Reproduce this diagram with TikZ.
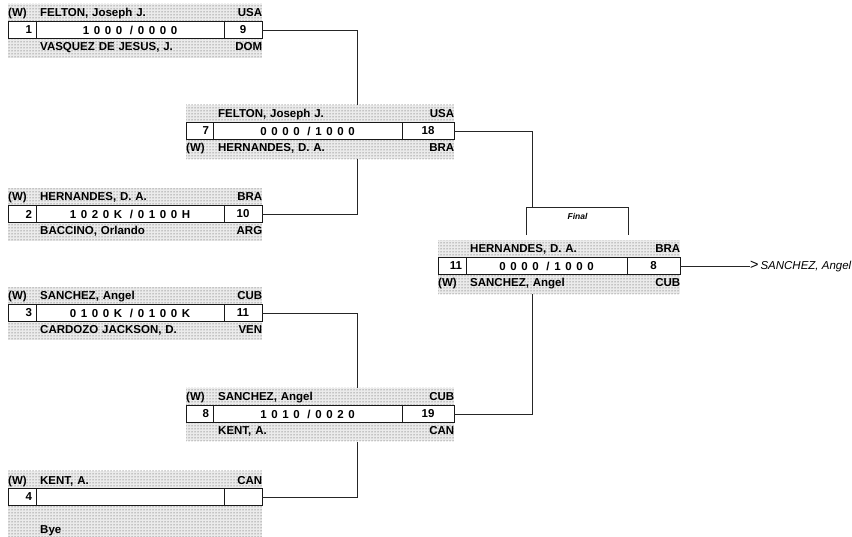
\documentclass[tikz,border=0pt]{standalone}
\usepackage{fontspec}
\setmainfont{Liberation Sans}
\newfontfamily\scorefont[LetterSpace=40]{Liberation Sans}
\usetikzlibrary{
  backgrounds,
  calc,
  fit,
  patterns,
  positioning
}
\newcommand{\basefont}{\fontsize{11.5}{13.5}\selectfont}
\newcommand{\entrant}[3]{\makebox[32pt][l]{#1}#2\hfill#3}
\tikzset{
  link/.style={draw=black!85,line width=0.8pt},
  band/.style={
    fill=black!8,
    postaction={pattern=dots,pattern color=black!75},
    draw=none,
    inner xsep=0pt,
    inner ysep=4.5pt
  },
  cell/.style={
    draw=black!90,
    fill=white,
    line width=1pt,
    minimum height=17pt,
    inner ysep=0pt,
    outer sep=0pt,
    font=\basefont\bfseries
  },
  bandtext/.style={inner sep=0pt,align=left,font=\basefont\bfseries},
  tablabel/.style={
    font=\fontsize{8.5}{10}\selectfont\bfseries\itshape,
    minimum width=101pt,
    minimum height=27pt,
    inner sep=0pt
  }
}

\begin{document}
\begin{tikzpicture}[x=1pt,y=-1pt]
  \useasboundingbox (0,0) rectangle (852,537);

  \foreach \id/\x/\y/\wa/\wb/\wc/\na/\sc/\nb/\toprow/\botrow/\dy in {
    m1/8/30/28/188/38/1/{1000 /0000}/9/{\entrant{(W)}{FELTON, Joseph J.}{USA}}/{\entrant{}{VASQUEZ DE JESUS, J.}{DOM}}/12.5,
    m2/8/214/28/188/38/2/{1020K /0100H}/10/{\entrant{(W)}{HERNANDES, D. A.}{BRA}}/{\entrant{}{BACCINO, Orlando}{ARG}}/12.5,
    m3/8/313/28/188/38/3/{0100K /0100K}/11/{\entrant{(W)}{SANCHEZ, Angel}{CUB}}/{\entrant{}{CARDOZO JACKSON, D.}{VEN}}/12.5,
    m4/8/497/28/188/38/4/{}/{}/{\entrant{(W)}{KENT, A.}{CAN}}/{\entrant{}{Bye}{}}/28,
    m5/186/131/27/189/52/7/{0000 /1000}/18/{\entrant{}{FELTON, Joseph J.}{USA}}/{\entrant{(W)}{HERNANDES, D. A.}{BRA}}/12.5,
    m6/186/414/27/189/52/8/{1010 /0020}/19/{\entrant{(W)}{SANCHEZ, Angel}{CUB}}/{\entrant{}{KENT, A.}{CAN}}/12.5,
    fin/438/266/28/161/53/11/{0000 /1000}/8/{\entrant{}{HERNANDES, D. A.}{BRA}}/{\entrant{(W)}{SANCHEZ, Angel}{CUB}}/12.5%
  }{
    \pgfmathsetmacro\ta{\wa-8}
    \pgfmathsetmacro\tw{\wa+\wb+\wc}
    \node[cell,text width=\ta pt,inner xsep=4pt,align=right,anchor=west] (\id-a) at (\x,\y) {\na};
    \node[cell,minimum width=\wb,right=0pt of \id-a,font=\basefont\scorefont\bfseries] (\id-b) {\sc};
    \node[cell,minimum width=\wc,right=0pt of \id-b] (\id-c) {\nb};
    \node[bandtext,text width=\tw pt,anchor=base west] (\id-t) at ($(\id-a.north west)+(0,-4.5)$) {\toprow};
    \node[bandtext,text width=\tw pt,anchor=base west] (\id-u) at ($(\id-a.south west)+(0,\dy)$) {\botrow};
    \begin{scope}[on background layer]
      \node[band,fit=(\id-t)(\id-u)(\id-a)(\id-c)] (\id) {};
    \end{scope}
  }

  \coordinate (col2) at (357,0);
  \coordinate (col3) at (532,0);

  \node[tablabel,text depth=10pt] (tab) at (577.5,221.5) {Final};
  \draw[link] (tab.south west) |- (tab.north east) -- (tab.south east);

  \draw[link] (m1-c.east) -| (col2 |- m5.north);
  \draw[link] (m2-c.east) -| (col2 |- m5.south);
  \draw[link] (m3-c.east) -| (col2 |- m6.north);
  \draw[link] (m4-c.east) -| (col2 |- m6.south);
  \draw[link] (m5-c.east) -| (col3 |- tab.north);
  \draw[link] (m6-c.east) -| (col3 |- fin.south);

  \node[font=\basefont\itshape,anchor=west,inner sep=0pt] (winner) at ($(fin-c.east)+(70,0)$)
    {{\upshape\Large>}\,SANCHEZ, Angel};
  \draw[link] (fin-c.east) -- (winner.west);
\end{tikzpicture}
\end{document}
